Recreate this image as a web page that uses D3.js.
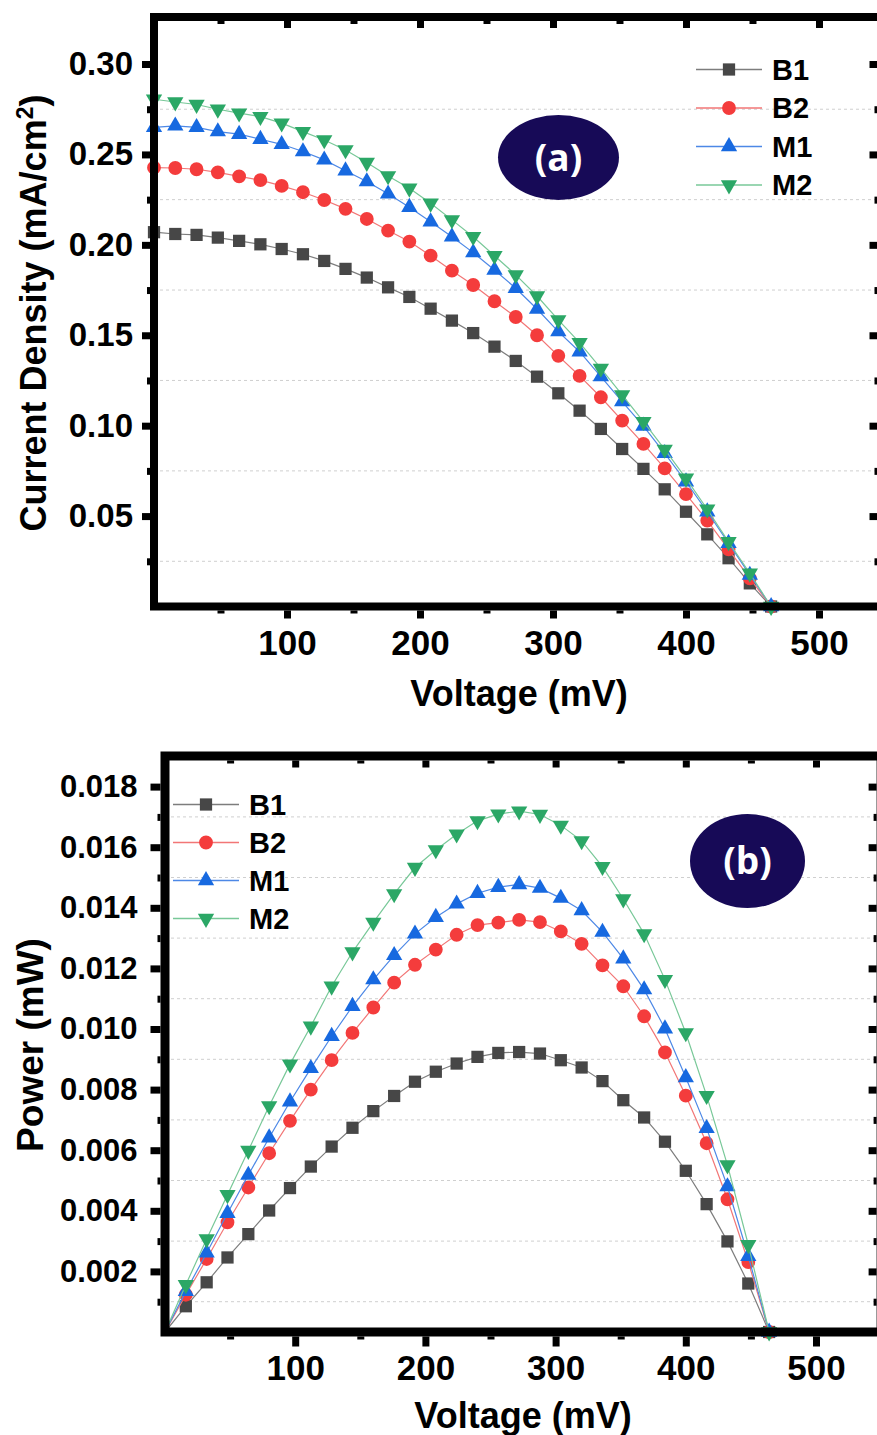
<!DOCTYPE html>
<html>
<head>
<meta charset="utf-8">
<script src="https://cdn.jsdelivr.net/npm/d3@7"></script>
<style>
  body { margin: 0; background: #fff; }
  svg { display: block; }
  text { font-family: "Liberation Sans", Arial, sans-serif; font-weight: bold; fill: #000; }
</style>
</head>
<body>
<svg id="chart" width="877" height="1435"></svg>
<script>
// ---- data -----------------------------------------------------------------
const seriesNames = ["B1", "B2", "M1", "M2"];
const voltage = [0, 16, 32, 48, 64, 80, 96, 112, 128, 144, 160, 176, 192, 208, 224,
                 240, 256, 272, 288, 304, 320, 336, 352, 368, 384, 400, 416, 432, 448, 464];

// current density (mA/cm2)
const currentB1 = [0.207, 0.206, 0.2055, 0.204, 0.2022, 0.2003, 0.1977, 0.1948, 0.1911, 0.1867,
                   0.1819, 0.1765, 0.1712, 0.1647, 0.1581, 0.1512, 0.1437, 0.1358, 0.1271, 0.1179,
                   0.1083, 0.0982, 0.0871, 0.0761, 0.0648, 0.0524, 0.0399, 0.0267, 0.0128, 0];
const currentB2 = [0.2427, 0.2425, 0.2418, 0.2401, 0.2379, 0.2358, 0.2326, 0.2291, 0.2248, 0.2199,
                   0.2143, 0.2079, 0.2018, 0.194, 0.1857, 0.1778, 0.1688, 0.1601, 0.15, 0.1386,
                   0.1275, 0.1157, 0.1028, 0.0899, 0.0764, 0.0621, 0.0475, 0.0316, 0.0156, 0];
const currentM1 = [0.265, 0.2658, 0.265, 0.2626, 0.2612, 0.2584, 0.2556, 0.2516, 0.247, 0.241,
                   0.235, 0.2282, 0.2208, 0.2128, 0.2045, 0.1957, 0.1861, 0.176, 0.1645, 0.152,
                   0.1409, 0.1271, 0.1133, 0.0998, 0.0847, 0.069, 0.0524, 0.035, 0.0174, 0];
const currentM2 = [0.2805, 0.279, 0.2776, 0.275, 0.2728, 0.2709, 0.2673, 0.2626, 0.258, 0.2525,
                   0.2455, 0.2381, 0.2313, 0.223, 0.2138, 0.2045, 0.194, 0.1834, 0.1717, 0.1585,
                   0.1459, 0.1317, 0.117, 0.1022, 0.0869, 0.0709, 0.0538, 0.0358, 0.0184, 0];

// power (mW)
const powerB1 = [0, 0.00085, 0.00164, 0.00246, 0.00323, 0.00401, 0.00475, 0.00546, 0.00612, 0.00674,
                 0.00729, 0.00779, 0.00826, 0.00859, 0.00886, 0.00908, 0.00921, 0.00924, 0.00919, 0.00897,
                 0.00873, 0.00828, 0.00765, 0.00708, 0.00628, 0.00532, 0.00422, 0.00299, 0.0016, 0];
const powerB2 = [0, 0.00123, 0.00241, 0.00362, 0.00477, 0.0059, 0.00697, 0.008, 0.00897, 0.00987,
                 0.01071, 0.01153, 0.01212, 0.01262, 0.01311, 0.01343, 0.01351, 0.0136, 0.01353, 0.01322,
                 0.01281, 0.0121, 0.01141, 0.01042, 0.00923, 0.0078, 0.00623, 0.00438, 0.00231, 0];
const powerM1 = [0, 0.00134, 0.00261, 0.00392, 0.00518, 0.00641, 0.0076, 0.0087, 0.00976, 0.01075,
                 0.01163, 0.01243, 0.01314, 0.01369, 0.01413, 0.01448, 0.01468, 0.01477, 0.01465, 0.01432,
                 0.01391, 0.0132, 0.01232, 0.0113, 0.01001, 0.0084, 0.00672, 0.0048, 0.0025, 0];
const powerM2 = [0, 0.00156, 0.00307, 0.00453, 0.00599, 0.00746, 0.00884, 0.01009, 0.01141, 0.01254,
                 0.01352, 0.01446, 0.01533, 0.01591, 0.01643, 0.01687, 0.01709, 0.01719, 0.01708, 0.01672,
                 0.01621, 0.01536, 0.01429, 0.01314, 0.01163, 0.00987, 0.0078, 0.00551, 0.00288, 0];

// ticks
const voltageTicks = [100, 200, 300, 400, 500];
const voltageMinorTicks = [50, 150, 250, 350, 450];
const currentTicks = [0.05, 0.10, 0.15, 0.20, 0.25, 0.30];
const currentTickLabels = ["0.05", "0.10", "0.15", "0.20", "0.25", "0.30"];
const currentMinorTicks = [0.025, 0.075, 0.125, 0.175, 0.225, 0.275];
const powerTicks = [0.002, 0.004, 0.006, 0.008, 0.010, 0.012, 0.014, 0.016, 0.018];
const powerTickLabels = ["0.002", "0.004", "0.006", "0.008", "0.010", "0.012", "0.014", "0.016", "0.018"];
const powerMinorTicks = [0.001, 0.003, 0.005, 0.007, 0.009, 0.011, 0.013, 0.015, 0.017];

// ---- styles ----------------------------------------------------------------
const seriesStyle = {
  B1: { symbol: d3.symbolSquare,   size: 150, rotate: 0,   fill: "#474747", line: "#7d7d7d" },
  B2: { symbol: d3.symbolCircle,   size: 150, rotate: 0,   fill: "#f43c3c", line: "#f27676" },
  M1: { symbol: d3.symbolTriangle, size: 115, rotate: 0,   fill: "#1769e0", line: "#4d88e6" },
  M2: { symbol: d3.symbolTriangle, size: 115, rotate: 180, fill: "#2ba766", line: "#78c898" }
};

const svg = d3.select("#chart");
const labelFont = "Liberation Sans, Arial, sans-serif";

function drawPanel(cfg) {
  const g = svg.append("g");
  const x = d3.scaleLinear().domain(cfg.xDomain).range(cfg.xRange);
  const y = d3.scaleLinear().domain(cfg.yDomain).range(cfg.yRange);
  const [x0, x1] = cfg.xRange;
  const [y0, y1] = cfg.yRange;
  const fw = cfg.frameWidth;

  // dashed horizontal grid at the minor ticks
  g.append("g").selectAll("line").data(cfg.gridValues).join("line")
    .attr("x1", x0).attr("x2", x1)
    .attr("y1", d => y(d)).attr("y2", d => y(d))
    .attr("stroke", "#cfcfcf").attr("stroke-width", 1)
    .attr("stroke-dasharray", "3,3");

  // series lines and markers
  const line = d3.line().x(d => x(d[0])).y(d => y(d[1]));
  seriesNames.forEach((name, k) => {
    const st = seriesStyle[name];
    const pts = voltage.map((v, i) => [v, cfg.values[k][i]]);
    g.append("path").datum(pts)
      .attr("d", line).attr("fill", "none")
      .attr("stroke", st.line).attr("stroke-width", 1.2);
    g.append("g").selectAll("path").data(pts.slice(cfg.firstMarker)).join("path")
      .attr("d", d3.symbol().type(st.symbol).size(st.size))
      .attr("transform", d => `translate(${x(d[0])},${y(d[1])}) rotate(${st.rotate})`)
      .attr("fill", st.fill);
  });

  // frame
  g.append("rect")
    .attr("x", x0).attr("y", y1)
    .attr("width", x1 - x0).attr("height", y0 - y1)
    .attr("fill", "none").attr("stroke", "#000").attr("stroke-width", fw);

  const styleTicks = (sel, w) => {
    sel.select(".domain").remove();
    sel.selectAll(".tick line").attr("stroke", "#000").attr("stroke-width", w);
  };
  const styleLabels = (sel, size) => sel.selectAll("text")
    .attr("font-size", size).attr("font-family", labelFont)
    .attr("font-weight", "bold").attr("fill", "#000");

  // left axis
  g.append("g").attr("transform", `translate(${x0 - fw / 2},0)`)
    .call(d3.axisLeft(y).tickValues(cfg.yTicks).tickSizeInner(cfg.majorLen).tickSizeOuter(0)
      .tickPadding(cfg.yPad).tickFormat((d, i) => cfg.yTickLabels[i]))
    .call(s => styleTicks(s, 7))
    .call(s => styleLabels(s, cfg.yTickFont));
  g.append("g").attr("transform", `translate(${x0 - fw / 2},0)`)
    .call(d3.axisLeft(y).tickValues(cfg.yMinor).tickSizeInner(3).tickSizeOuter(0).tickFormat(""))
    .call(s => styleTicks(s, 7));

  // bottom axis
  g.append("g").attr("transform", `translate(0,${y0 + fw / 2})`)
    .call(d3.axisBottom(x).tickValues(voltageTicks).tickSizeInner(cfg.majorLen).tickSizeOuter(0)
      .tickPadding(cfg.xPad))
    .call(s => styleTicks(s, 7))
    .call(s => styleLabels(s, cfg.xTickFont));
  g.append("g").attr("transform", `translate(0,${y0 + fw / 2})`)
    .call(d3.axisBottom(x).tickValues(voltageMinorTicks).tickSizeInner(3).tickSizeOuter(0).tickFormat(""))
    .call(s => styleTicks(s, 7));

  // top axis (ticks point inward)
  g.append("g").attr("transform", `translate(0,${y1 + fw / 2})`)
    .call(d3.axisBottom(x).tickValues(voltageTicks).tickSizeInner(7).tickSizeOuter(0).tickFormat(""))
    .call(s => styleTicks(s, 7));
  g.append("g").attr("transform", `translate(0,${y1 + fw / 2})`)
    .call(d3.axisBottom(x).tickValues(voltageMinorTicks).tickSizeInner(3).tickSizeOuter(0).tickFormat(""))
    .call(s => styleTicks(s, 7));

  // right axis (ticks point inward)
  g.append("g").attr("transform", `translate(${x1 - fw / 2},0)`)
    .call(d3.axisLeft(y).tickValues(cfg.yTicks).tickSizeInner(8).tickSizeOuter(0).tickFormat(""))
    .call(s => styleTicks(s, 7));
  g.append("g").attr("transform", `translate(${x1 - fw / 2},0)`)
    .call(d3.axisLeft(y).tickValues(cfg.yMinor).tickSizeInner(3).tickSizeOuter(0).tickFormat(""))
    .call(s => styleTicks(s, 7));

  // axis titles
  g.append("text")
    .attr("x", cfg.xTitlePos[0]).attr("y", cfg.xTitlePos[1])
    .attr("text-anchor", "middle").attr("dy", "0.35em")
    .attr("font-size", 36).text("Voltage (mV)");

  const yt = g.append("text")
    .attr("transform", `translate(${cfg.yTitlePos[0]},${cfg.yTitlePos[1]}) rotate(-90)`)
    .attr("text-anchor", "middle").attr("dy", "0.35em")
    .attr("font-size", cfg.yTitleFont);
  cfg.yTitle(yt);

  // legend
  const lg = g.append("g").attr("transform", `translate(${cfg.legendPos[0]},${cfg.legendPos[1]})`);
  seriesNames.forEach((name, k) => {
    const st = seriesStyle[name];
    const row = lg.append("g").attr("transform", `translate(0,${k * cfg.legendStep})`);
    row.append("line").attr("x1", 0).attr("x2", 66).attr("y1", 0).attr("y2", 0)
      .attr("stroke", st.line).attr("stroke-width", 1.5);
    row.append("path")
      .attr("d", d3.symbol().type(st.symbol).size(st.size)())
      .attr("transform", `translate(33,0) rotate(${st.rotate})`)
      .attr("fill", st.fill);
    row.append("text").attr("x", 76).attr("dy", "0.36em")
      .attr("font-size", 29).text(name);
  });

  // panel badge
  g.append("ellipse")
    .attr("cx", cfg.badge[0]).attr("cy", cfg.badge[1])
    .attr("rx", cfg.badge[2]).attr("ry", cfg.badge[3])
    .attr("fill", "#170a57");
  g.append("text")
    .attr("x", cfg.badge[0]).attr("y", cfg.badge[1]).attr("dy", "0.36em")
    .attr("text-anchor", "middle")
    .style("font-family", "'Open Sans', 'DejaVu Sans', sans-serif").style("font-weight", "700")
    .style("fill", "#fff").attr("font-size", 37).text(cfg.badgeText);
}

// (a) current density vs voltage
drawPanel({
  values: [currentB1, currentB2, currentM1, currentM2],
  firstMarker: 0,
  xDomain: [0, 547], xRange: [154, 881.5],
  yDomain: [0, 0.326], yRange: [606.5, 17],
  frameWidth: 8, majorLen: 8,
  gridValues: currentMinorTicks,
  yTicks: currentTicks, yTickLabels: currentTickLabels, yMinor: currentMinorTicks,
  yPad: 9, xPad: 12, yTickFont: 33, xTickFont: 35,
  xTitlePos: [519, 693],
  yTitlePos: [33, 313], yTitleFont: 36,
  yTitle: t => {
    t.append("tspan").text("Current Density (mA/cm");
    t.append("tspan").attr("baseline-shift", "super").attr("font-size", 23).text("2");
    t.append("tspan").text(")");
  },
  legendPos: [696, 69.5], legendStep: 38.5,
  badge: [558.5, 157.5, 60.5, 42.5], badgeText: "(a)"
});

// (b) power vs voltage
drawPanel({
  values: [powerB1, powerB2, powerM1, powerM2],
  firstMarker: 1,
  xDomain: [0, 550], xRange: [165, 881.1],
  yDomain: [0, 0.01901], yRange: [1332, 756],
  frameWidth: 9, majorLen: 10,
  gridValues: powerMinorTicks,
  yTicks: powerTicks, yTickLabels: powerTickLabels, yMinor: powerMinorTicks,
  yPad: 13, xPad: 9, yTickFont: 31, xTickFont: 35,
  xTitlePos: [523, 1415],
  yTitlePos: [30, 1045], yTitleFont: 37,
  yTitle: t => t.text("Power (mW)"),
  legendPos: [173, 804.5], legendStep: 38,
  badge: [747.5, 861, 57.5, 47], badgeText: "(b)"
});
</script>
</body>
</html>
